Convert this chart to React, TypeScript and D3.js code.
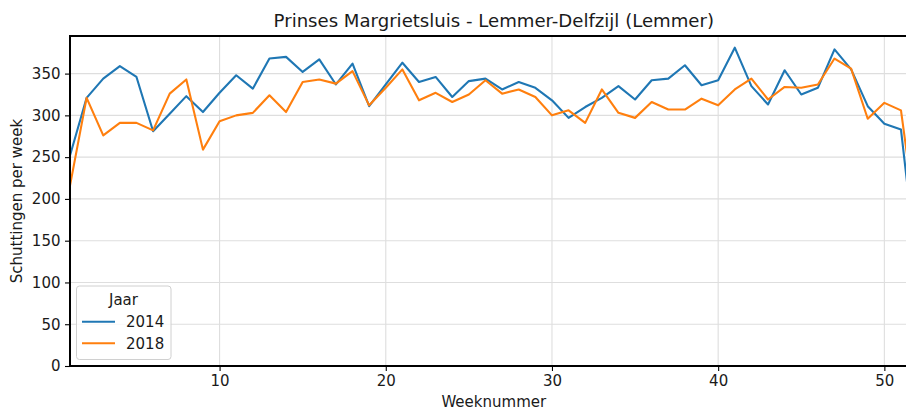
import React, { useEffect, useRef } from 'react'
import * as d3 from 'd3'

// schuttingen per week
const weeks = d3.range(1, 53)
const series2014 = [
    252, 321, 344, 359, 346, 281, 302, 323, 304, 327,
    348, 332, 368, 370, 352, 367, 337, 362, 311, 337,
    363, 340, 346, 322, 341, 344, 331, 340, 333, 318,
    297, 310, 321, 335, 319, 342, 344, 360, 336, 342,
    381, 335, 313, 354, 325, 333, 379, 355, 311, 290,
    283, 110
]
const series2018 = [
    216, 321, 276, 291, 291, 282, 326, 343, 259, 293,
    300, 303, 324, 304, 340, 343, 338, 353, 312, 333,
    355, 318, 327, 316, 325, 342, 326, 331, 322, 300,
    306, 291, 331, 303, 297, 316, 307, 307, 320, 312,
    331, 344, 319, 334, 333, 337, 368, 356, 296, 315,
    306, 160
]
const yearLabels = ['2014', '2018']
const yearColors = ['#1f77b4', '#ff7f0e']
const xTicks = [10, 20, 30, 40, 50]
const yTicks = [0, 50, 100, 150, 200, 250, 300, 350]

const font = '"DejaVu Sans", sans-serif'
const fs = '15px'

function App() {
    const svgRef = useRef<SVGSVGElement>(null)
    const width = 906
    const height = 410
    const left = 70
    const right = 917.6   // axes run a bit past the picture edge
    const top = 36
    const bottom = 366

    useEffect(() => {
        const svg = d3.select(svgRef.current)
        svg.selectAll('*').remove()

        const x = d3.scaleLinear().domain([1, 52]).range([left, right])
        const y = d3.scaleLinear().domain([0, 395]).range([bottom, top])

        svg.append('defs').append('clipPath').attr('id', 'plot-clip')
            .append('rect')
            .attr('x', left).attr('y', top)
            .attr('width', right - left).attr('height', bottom - top)

        // grid
        const grid = svg.append('g')
        grid.selectAll('.hgrid').data(yTicks).join('line')
            .attr('x1', left).attr('x2', right)
            .attr('y1', d => y(d)).attr('y2', d => y(d))
            .attr('stroke', '#dedede').attr('stroke-width', 1.1)
        grid.selectAll('.vgrid').data(xTicks).join('line')
            .attr('y1', top).attr('y2', bottom)
            .attr('x1', d => x(d)).attr('x2', d => x(d))
            .attr('stroke', '#dedede').attr('stroke-width', 1.1)

        // lines
        const line = d3.line<number>()
            .x((d, i) => x(weeks[i]))
            .y(d => y(d))
        const lines = svg.append('g').attr('clip-path', 'url(#plot-clip)')
        ;[series2014, series2018].forEach((s, i) => {
            lines.append('path')
                .datum(s)
                .attr('d', line)
                .attr('fill', 'none')
                .attr('stroke', yearColors[i])
                .attr('stroke-width', 2.1)
                .attr('stroke-linejoin', 'round')
        })

        // axes
        const xAxis = d3.axisBottom(x).tickValues(xTicks).tickSize(5).tickPadding(4).tickSizeOuter(0)
        const yAxis = d3.axisLeft(y).tickValues(yTicks).tickSize(5).tickPadding(4.5).tickSizeOuter(0)

        const gx = svg.append('g').attr('transform', `translate(0,${bottom})`).call(xAxis)
        const gy = svg.append('g').attr('transform', `translate(${left},0)`).call(yAxis)
        ;[gx, gy].forEach(g => {
            g.select('.domain').remove()
            g.selectAll('.tick line').attr('stroke', '#000').attr('stroke-width', 1.1)
            g.selectAll('.tick text')
                .attr('fill', '#1a1a1a')
                .style('font-family', font)
                .style('font-size', fs)
        })
        gx.selectAll('.tick text').attr('dy', '0.71em')

        // spines: left, bottom, top
        svg.append('line').attr('x1', left).attr('x2', left).attr('y1', top - 1).attr('y2', bottom + 1)
            .attr('stroke', '#000').attr('stroke-width', 2)
        svg.append('line').attr('x1', left).attr('x2', right).attr('y1', bottom).attr('y2', bottom)
            .attr('stroke', '#000').attr('stroke-width', 2)
        svg.append('line').attr('x1', left).attr('x2', right).attr('y1', top).attr('y2', top)
            .attr('stroke', '#000').attr('stroke-width', 2)

        // texts
        svg.append('text')
            .attr('x', (left + right) / 2).attr('y', 27)
            .attr('text-anchor', 'middle')
            .style('font-family', font).style('font-size', '18.1px')
            .attr('fill', '#1a1a1a')
            .text('Prinses Margrietsluis - Lemmer-Delfzijl (Lemmer)')
        svg.append('text')
            .attr('x', (left + right) / 2).attr('y', 406.5)
            .attr('text-anchor', 'middle')
            .style('font-family', font).style('font-size', fs)
            .attr('fill', '#1a1a1a')
            .text('Weeknummer')
        svg.append('text')
            .attr('transform', `translate(21.5,${(top + bottom) / 2}) rotate(-90)`)
            .attr('text-anchor', 'middle')
            .style('font-family', font).style('font-size', fs)
            .attr('fill', '#1a1a1a')
            .text('Schuttingen per week')

        // legend
        const legend = svg.append('g')
        legend.append('rect')
            .attr('x', 76.5).attr('y', 286).attr('width', 94.5).attr('height', 73.5)
            .attr('rx', 3)
            .attr('fill', 'rgba(255,255,255,0.8)')
            .attr('stroke', '#d0d0d0').attr('stroke-width', 1)
        legend.append('text')
            .attr('x', 123.5).attr('y', 305)
            .attr('text-anchor', 'middle')
            .style('font-family', font).style('font-size', fs)
            .attr('fill', '#1a1a1a')
            .text('Jaar')
        yearLabels.forEach((lab, i) => {
            const ly = 321.7 + i * 21.6
            legend.append('line')
                .attr('x1', 82).attr('x2', 115).attr('y1', ly).attr('y2', ly)
                .attr('stroke', yearColors[i]).attr('stroke-width', 2.1)
            legend.append('text')
                .attr('x', 126).attr('y', ly + 5.6)
                .style('font-family', font).style('font-size', fs)
                .attr('fill', '#1a1a1a')
                .text(lab)
        })
    }, [])

    return (
        <svg ref={svgRef} width={width} height={height}
            style={{ position: 'absolute', left: 0, top: 0, background: '#fff', overflow: 'hidden' }} />
    )
}

export default App
